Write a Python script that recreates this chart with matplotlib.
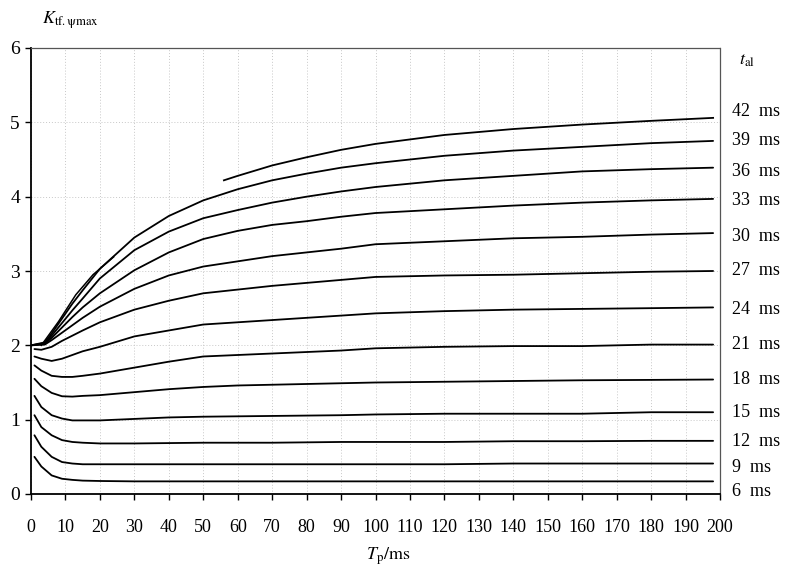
import matplotlib
matplotlib.use("Agg")
import matplotlib.pyplot as plt
import numpy as np

plt.rcParams['font.family'] = ['Liberation Serif', 'DejaVu Serif']
plt.rcParams['mathtext.fontset'] = 'stix'

# ---- data ----
x_lower = [1, 3, 6, 9, 12, 15, 20, 30, 40, 50, 60, 70, 80, 90, 100, 120, 140, 160, 180, 198]
t6  = [0.50, 0.37, 0.25, 0.205, 0.19, 0.18, 0.175, 0.17, 0.17, 0.17, 0.17, 0.17, 0.17, 0.17, 0.17, 0.17, 0.17, 0.17, 0.17, 0.17]
t9  = [0.79, 0.635, 0.50, 0.43, 0.41, 0.40, 0.40, 0.40, 0.40, 0.40, 0.40, 0.40, 0.40, 0.40, 0.40, 0.40, 0.41, 0.41, 0.41, 0.41]
t12 = [1.06, 0.90, 0.79, 0.725, 0.70, 0.69, 0.68, 0.68, 0.685, 0.69, 0.69, 0.69, 0.695, 0.70, 0.70, 0.70, 0.71, 0.71, 0.715, 0.715]
t15 = [1.32, 1.17, 1.06, 1.015, 0.99, 0.99, 0.99, 1.01, 1.03, 1.04, 1.045, 1.05, 1.055, 1.06, 1.07, 1.08, 1.08, 1.08, 1.10, 1.10]
t18 = [1.55, 1.45, 1.36, 1.315, 1.31, 1.32, 1.33, 1.37, 1.41, 1.44, 1.46, 1.47, 1.48, 1.49, 1.50, 1.51, 1.52, 1.53, 1.535, 1.54]
t21 = [1.73, 1.66, 1.59, 1.575, 1.575, 1.59, 1.62, 1.70, 1.78, 1.85, 1.87, 1.89, 1.91, 1.93, 1.96, 1.98, 1.99, 1.99, 2.01, 2.01]
t24 = [1.85, 1.82, 1.79, 1.82, 1.87, 1.92, 1.98, 2.12, 2.20, 2.28, 2.31, 2.34, 2.37, 2.40, 2.43, 2.46, 2.48, 2.49, 2.50, 2.51]
t27 = [1.95, 1.94, 1.98, 2.06, 2.13, 2.20, 2.31, 2.48, 2.60, 2.70, 2.75, 2.80, 2.84, 2.88, 2.92, 2.94, 2.95, 2.97, 2.99, 3.00]

x_upper = [0, 4, 6, 9, 12, 15, 20, 30, 40, 50, 60, 70, 80, 90, 100, 120, 140, 160, 180, 198]
t30 = [2.0, 2.01, 2.07, 2.17, 2.27, 2.37, 2.52, 2.76, 2.94, 3.06, 3.13, 3.20, 3.25, 3.30, 3.36, 3.40, 3.44, 3.46, 3.49, 3.51]
t33 = [2.0, 2.02, 2.10, 2.24, 2.38, 2.51, 2.70, 3.01, 3.25, 3.43, 3.54, 3.62, 3.67, 3.73, 3.78, 3.83, 3.88, 3.92, 3.95, 3.97]
t36 = [2.0, 2.03, 2.13, 2.30, 2.47, 2.63, 2.90, 3.28, 3.53, 3.71, 3.82, 3.92, 4.00, 4.07, 4.13, 4.22, 4.28, 4.34, 4.37, 4.39]
t39 = [2.0, 2.04, 2.16, 2.36, 2.56, 2.74, 3.03, 3.45, 3.74, 3.95, 4.10, 4.22, 4.31, 4.39, 4.45, 4.55, 4.62, 4.67, 4.72, 4.75]

x42_early = [3, 8, 13, 18, 24]
t42_early = [2.0, 2.32, 2.68, 2.95, 3.19]
x42 = [56, 60, 70, 80, 90, 100, 120, 140, 160, 180, 198]
t42 = [4.22, 4.28, 4.42, 4.53, 4.63, 4.71, 4.83, 4.91, 4.97, 5.02, 5.06]

curve_labels = ['6  ms', '9  ms', '12  ms', '15  ms', '18  ms', '21  ms', '24  ms',
                '27  ms', '30  ms', '33  ms', '36  ms', '39  ms', '42  ms']
label_y = [0.03, 0.35, 0.70, 1.09, 1.54, 2.01, 2.48, 3.01, 3.46, 3.95, 4.34, 4.75, 5.14]

x_ticks = list(range(0, 201, 10))
y_ticks = [0, 1, 2, 3, 4, 5, 6]

# ---- figure ----
fig = plt.figure(figsize=(7.85, 5.71), dpi=100)
ax = fig.add_axes([31/785, 77/571, 689/785, 446/571])

lower = [t6, t9, t12, t15, t18, t21, t24, t27]
upper = [t30, t33, t36, t39]
for ys in lower:
    ax.plot(x_lower, ys, color='black', lw=1.3, solid_capstyle='round')
for ys in upper:
    ax.plot(x_upper, ys, color='black', lw=1.3, solid_capstyle='round')
ax.plot(x42_early, t42_early, color='black', lw=1.1)
ax.plot(x42, t42, color='black', lw=1.3)

ax.set_xlim(0, 200)
ax.set_ylim(0, 6)
ax.set_xticks(x_ticks)
ax.set_yticks(y_ticks)
ax.tick_params(axis='x', direction='out', length=4, width=1, pad=14, labelsize=13)
ax.tick_params(axis='y', direction='out', length=4, width=1, pad=4, labelsize=14)

ax.grid(True, color='#c8c8c8', linestyle=(0, (1, 2)), lw=0.7)
for s in ['left', 'bottom']:
    ax.spines[s].set_linewidth(1.3)
for s in ['top', 'right']:
    ax.spines[s].set_linestyle((0, (1, 1)))
    ax.spines[s].set_color('#555555')
    ax.spines[s].set_linewidth(0.9)

for lab, yy in zip(curve_labels, label_y):
    ax.text(203.4, yy, lab, ha='left', va='center', fontsize=13, clip_on=False)

ax.text(205.5, 5.83, r'$t_{\mathrm{al}}$', ha='left', va='center', fontsize=13, clip_on=False)

fig.text(42/785, 1 - 24/571, r'$K_{\mathrm{tf.\psi max}}$', ha='left', va='baseline', fontsize=13)
fig.text(388/785, 1 - 560/571, r'$T_{\mathrm{p}}/\mathrm{ms}$', ha='center', va='baseline', fontsize=13)

fig.savefig('out.png', dpi=100)
